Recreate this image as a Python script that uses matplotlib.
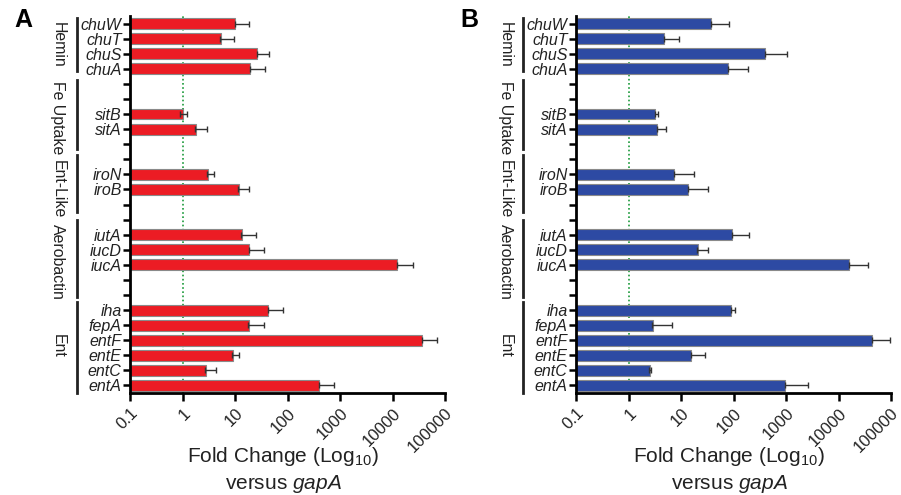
import numpy as np
import matplotlib.pyplot as plt
from matplotlib.transforms import blended_transform_factory

plt.rcParams['font.family'] = ['Liberation Sans', 'DejaVu Sans']
plt.rcParams['mathtext.fontset'] = 'custom'
plt.rcParams['mathtext.rm'] = 'Liberation Sans'
plt.rcParams['mathtext.it'] = 'Liberation Sans:italic'

# y slots (top to bottom), '' = empty slot between groups
slots = ['chuW', 'chuT', 'chuS', 'chuA', '', '', 'sitB', 'sitA', '', '',
         'iroN', 'iroB', '', '', 'iutA', 'iucD', 'iucA', '', '',
         'iha', 'fepA', 'entF', 'entE', 'entC', 'entA']

genes = ['chuW', 'chuT', 'chuS', 'chuA', 'sitB', 'sitA', 'iroN', 'iroB',
         'iutA', 'iucD', 'iucA', 'iha', 'fepA', 'entF', 'entE', 'entC', 'entA']

# panel A (red)
a_mean = [10, 5.2, 26.6, 19.3, 0.9, 1.73, 2.9, 11.6,
          13.2, 18.7, 12300, 43, 18, 36000, 8.9, 2.7, 390]
a_err = [8.6, 4.5, 18, 18, 0.3, 1.2, 1.0, 6.6,
         12, 17, 11900, 40, 17, 35000, 3.1, 1.6, 386]

# panel B (blue)
b_mean = [36.5, 4.7, 396, 79, 3.16, 3.45, 7.2, 13.7,
          95, 20.6, 16100, 89, 2.8, 44200, 15.4, 2.43, 940]
b_err = [47, 4.4, 647, 106, 0.55, 1.75, 10.1, 18.3,
         99, 11.4, 20500, 19, 3.9, 53000, 13.6, 0.3, 1680]

groups = ['Hemin', 'Fe Uptake', 'Ent-Like', 'Aerobactin', 'Ent']
group_span = [(-0.35, 3.15), (3.75, 8.35), (8.7, 12.5), (13.0, 18.1), (18.45, 24.5)]
group_mid = [1.4, 6.25, 11.0, 15.8, 21.4]

xticks = [0.1, 1, 10, 100, 1000, 10000, 100000]
xticklabels = ['0.1', '1', '10', '100', '1000', '10000', '100000']

fig = plt.figure(figsize=(9.01, 4.95), dpi=100)


def panel(rect, mean, err, color, letter, text_x):
    ax = fig.add_axes(rect)
    ypos = [slots.index(g) for g in genes]
    ax.axvline(1, color='#1a9a3a', linestyle=(0, (1, 1.5)), lw=1.2, zorder=1)
    ax.barh(ypos, mean, height=0.72, left=0.1, color=color,
            edgecolor='#8a8a8a', linewidth=0.8, zorder=2)
    ax.errorbar(mean, ypos, xerr=[np.zeros(len(err)), err], fmt='none',
                ecolor='#333333', elinewidth=1, capsize=2.5, capthick=1, zorder=3)
    ax.set_xscale('log')
    ax.set_xlim(0.1, 100000)
    ax.set_ylim(24.5, -0.5)
    ax.set_yticks(range(len(slots)))
    ax.set_yticklabels(slots, fontstyle='italic', fontsize=11.5, color='#222222')
    ax.set_xticks(xticks)
    ax.set_xticklabels(xticklabels, rotation=45, ha='right', va='top',
                       rotation_mode='anchor', fontsize=12, color='#222222')
    ax.minorticks_off()
    for s in ['top', 'right']:
        ax.spines[s].set_visible(False)
    for s in ['left', 'bottom']:
        ax.spines[s].set_linewidth(2)
    ax.tick_params(axis='y', length=5, width=1.8, pad=1)
    ax.tick_params(axis='x', length=6, width=1.8, pad=3)
    cx = rect[0] + rect[2] / 2 - 0.005
    fig.text(cx, 1 - 457 / 495, 'Fold Change (Log$_{10}$)', fontsize=15,
             ha='center', va='center', color='#222222')
    fig.text(cx, 1 - 484 / 495, 'versus $\\mathit{gapA}$', fontsize=15,
             ha='center', va='center', color='#222222')
    tr = blended_transform_factory(ax.transAxes, ax.transData)
    for name, (y0, y1), ym in zip(groups, group_span, group_mid):
        ax.plot([-0.168, -0.168], [y0, y1], color='#222222', lw=2,
                transform=tr, clip_on=False)
        ax.text(text_x, ym, name, rotation=270, fontsize=11.4,
                ha='center', va='center', transform=tr, color='#222222')
    fig.text(rect[0] - 0.128, 0.96, letter, fontsize=18, fontweight='bold',
             ha='left', va='center')
    return ax


panel([0.1443, 0.206, 0.3496, 0.7616], a_mean, a_err, '#ec1c24', 'A', -0.229)
panel([0.6393, 0.206, 0.3496, 0.7616], b_mean, b_err, '#2d4aa3', 'B', -0.225)

fig.savefig('out.png', dpi=100)
